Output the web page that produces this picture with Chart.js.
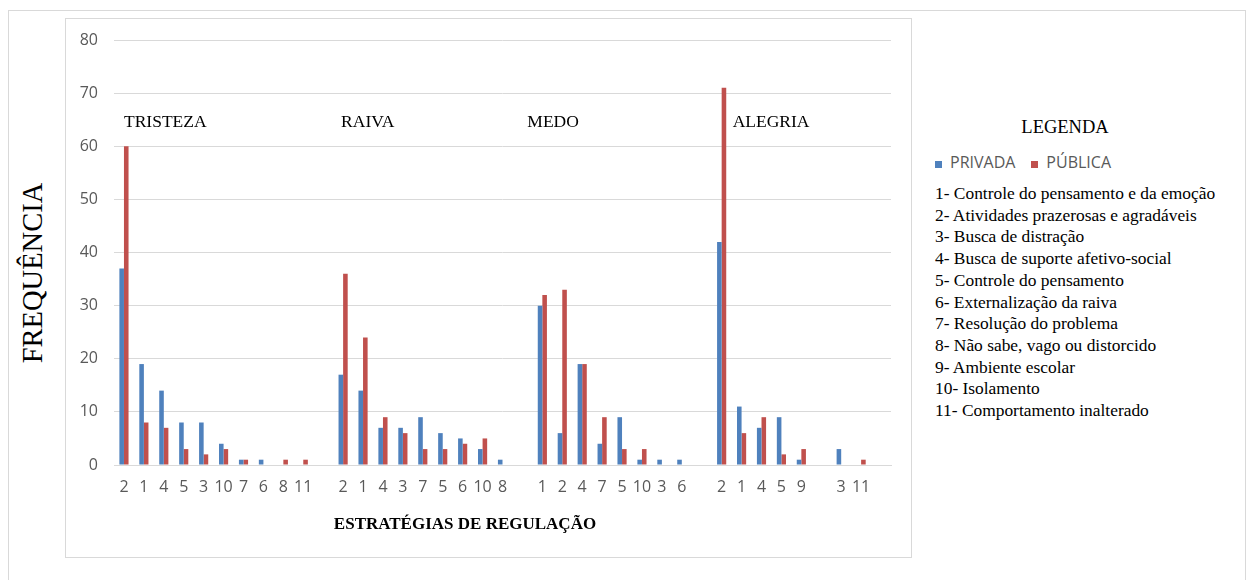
<!DOCTYPE html>
<html>
<head>
<meta charset="utf-8">
<script src="https://cdn.jsdelivr.net/npm/chart.js@4.4.0/dist/chart.umd.min.js"></script>
<style>
  body { margin: 0; width: 1248px; height: 580px; overflow: hidden; position: relative; background: #fff; font-family: 'Liberation Serif', serif; }
  #outer { position: absolute; left: 8px; top: 10px; width: 1238px; height: 580px; border: 1px solid #d9d9d9; box-sizing: border-box; }
  #plot-box { position: absolute; left: 65px; top: 18px; width: 847px; height: 540px; border: 1px solid #d9d9d9; box-sizing: border-box; }
  #plot-box canvas { display: block; }
  #y-title { position: absolute; left: 33px; top: 273px; transform: translate(-50%, -50%) rotate(-90deg); font-size: 28.5px; white-space: nowrap; color: #000; }
  #legend { position: absolute; left: 935px; top: 113px; width: 310px; }
  #legend h2 { margin: 0 0 0 80px; font-size: 18.5px; font-weight: normal; line-height: 28px; width: 100px; text-align: center; }
  .series { margin-top: 10px; font-family: 'Open Sans', sans-serif; font-size: 16px; color: #595959; line-height: 22px; }
  .series span.item { margin-right: 16px; }
  .series i { display: inline-block; width: 7px; height: 7px; margin-right: 8px; }
  #strategy-list { margin: 10px 0 0 0; padding: 0; list-style: none; font-size: 17.4px; line-height: 21.7px; color: #000; white-space: nowrap; }
</style>
</head>
<body>
<div id="outer"></div>
<div id="y-title">FREQUÊNCIA</div>
<div id="plot-box"><canvas id="chart" width="845" height="538"></canvas></div>
<div id="legend">
  <h2>LEGENDA</h2>
  <div class="series" id="series-legend"></div>
  <ul id="strategy-list"></ul>
</div>
<script>
const emotions = ['TRISTEZA', 'RAIVA', 'MEDO', 'ALEGRIA'];

const tristezaLabels = ['2', '1', '4', '5', '3', '10', '7', '6', '8', '11'];
const tristezaPrivada = [37, 19, 14, 8, 8, 4, 1, 1, 0, 0];
const tristezaPublica = [60, 8, 7, 3, 2, 3, 1, 0, 1, 1];

const raivaLabels = ['2', '1', '4', '3', '7', '5', '6', '10', '8'];
const raivaPrivada = [17, 14, 7, 7, 9, 6, 5, 3, 1];
const raivaPublica = [36, 24, 9, 6, 3, 3, 4, 5, 0];

const medoLabels = ['1', '2', '4', '7', '5', '10', '3', '6'];
const medoPrivada = [30, 6, 19, 4, 9, 1, 1, 1];
const medoPublica = [32, 33, 19, 9, 3, 3, 0, 0];

const alegriaLabels = ['2', '1', '4', '5', '9', '', '3', '11'];
const alegriaPrivada = [42, 11, 7, 9, 1, null, 3, 0];
const alegriaPublica = [71, 6, 9, 2, 3, null, 0, 1];

const strategies = [
  '1- Controle do pensamento e da emoção',
  '2- Atividades prazerosas e agradáveis',
  '3- Busca de distração',
  '4- Busca de suporte afetivo-social',
  '5- Controle do pensamento',
  '6- Externalização da raiva',
  '7- Resolução do problema',
  '8- Não sabe, vago ou distorcido',
  '9- Ambiente escolar',
  '10- Isolamento',
  '11- Comportamento inalterado',
];

const yTicks = [0, 10, 20, 30, 40, 50, 60, 70, 80];

// groups joined with one empty slot after each
const groupLabels = [tristezaLabels, raivaLabels, medoLabels, alegriaLabels];
const groupPrivada = [tristezaPrivada, raivaPrivada, medoPrivada, alegriaPrivada];
const groupPublica = [tristezaPublica, raivaPublica, medoPublica, alegriaPublica];

const labels = [];
const privada = [];
const publica = [];
const groupStart = [];
groupLabels.forEach((g, i) => {
  groupStart.push(labels.length);
  labels.push(...g, '');
  privada.push(...groupPrivada[i], null);
  publica.push(...groupPublica[i], null);
});

// label x: category index of the group start plus a pixel nudge
const emotionNudge = [0, -2, -15, 11];

const emotionLabelsPlugin = {
  id: 'emotionLabels',
  afterDatasetsDraw(chart) {
    const { ctx, scales } = chart;
    ctx.save();
    ctx.font = '17.5px "Liberation Serif", serif';
    ctx.fillStyle = '#000';
    ctx.textAlign = 'left';
    ctx.textBaseline = 'middle';
    const y = scales.y.getPixelForValue(64.4);
    emotions.forEach((name, i) => {
      const x = scales.x.getPixelForValue(groupStart[i]) + emotionNudge[i];
      ctx.fillText(name, x, y);
    });
    ctx.font = 'bold 17px "Liberation Serif", serif';
    ctx.textAlign = 'center';
    ctx.fillText('ESTRATÉGIAS DE REGULAÇÃO', 465 - 66, 525 - 19);
    ctx.restore();
  },
};

const chart = new Chart(document.getElementById('chart'), {
  type: 'bar',
  data: {
    labels,
    datasets: [
      { label: 'PRIVADA', data: privada, backgroundColor: '#4f81bd', borderWidth: 0 },
      { label: 'PÚBLICA', data: publica, backgroundColor: '#c0504d', borderWidth: 0 },
    ],
  },
  options: {
    responsive: false,
    animation: false,
    layout: { padding: { left: 0, right: 20, top: 21, bottom: 0 } },
    datasets: { bar: { barPercentage: 1, categoryPercentage: 0.46 } },
    plugins: { legend: { display: false }, tooltip: { enabled: false } },
    scales: {
      x: {
        grid: { display: false, drawTicks: false },
        border: { color: '#d9d9d9' },
        ticks: { color: '#595959', font: { family: 'Open Sans', size: 16 }, padding: 13, autoSkip: false, maxRotation: 0 },
        afterFit: (s) => { s.height = 92; s.paddingLeft = 0; s.paddingRight = 0; },
      },
      y: {
        min: 0,
        max: 80,
        afterBuildTicks: (s) => { s.ticks = yTicks.map((v) => ({ value: v })); },
        grid: { color: '#d9d9d9', drawTicks: false },
        border: { display: false },
        ticks: { color: '#595959', font: { family: 'Open Sans', size: 16 }, padding: 16 },
        afterFit: (s) => { s.width = 48; s.paddingTop = 0; s.paddingBottom = 0; },
      },
    },
  },
  plugins: [emotionLabelsPlugin],
});

document.getElementById('series-legend').innerHTML = chart.data.datasets
  .map((d) => `<span class="item"><i style="background:${d.backgroundColor}"></i>${d.label}</span>`)
  .join('');
document.getElementById('strategy-list').innerHTML = strategies.map((s) => `<li>${s}</li>`).join('');
</script>
</body>
</html>
